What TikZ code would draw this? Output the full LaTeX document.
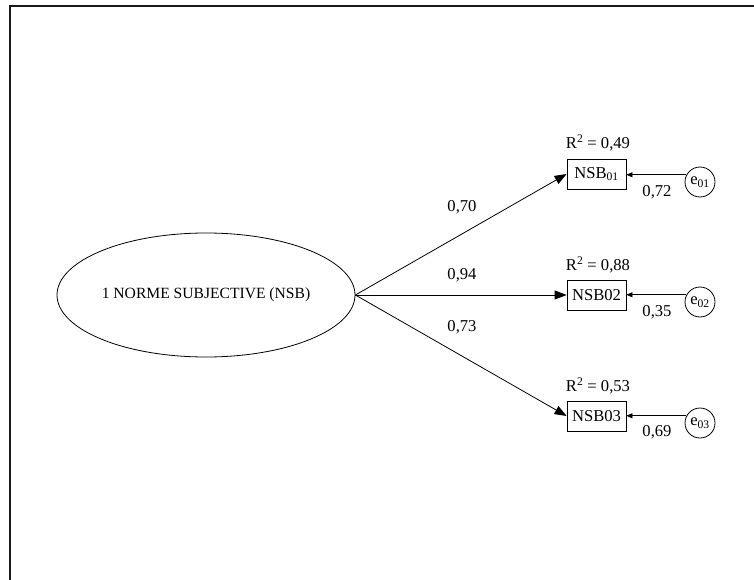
\documentclass[tikz,border=0pt]{standalone}
\usepackage{fontspec}
\setmainfont{Liberation Serif}
\usetikzlibrary{shapes.geometric,arrows.meta}
\begin{document}
\begin{tikzpicture}[x=1pt,y=-1pt,
  txt/.style={font=\fontsize{16.6}{19}\selectfont, inner sep=0pt},
  latent/.style={ellipse, draw, line width=0.8pt, minimum width=298pt, minimum height=124pt, inner sep=0pt},
  obsbox/.style={rectangle, draw, line width=0.8pt, minimum width=59pt, minimum height=30pt, inner sep=0pt, font=\fontsize{16.6}{19}\selectfont},
  errc/.style={circle, draw, line width=0.8pt, minimum size=30pt, inner sep=0pt, font=\fontsize{16.6}{19}\selectfont},
  loading/.style={-{Triangle[length=12pt,width=9pt]}, line width=0.8pt},
  errarrow/.style={-{Triangle[length=6pt,width=5pt]}, line width=0.8pt},
  frameline/.style={line width=2pt, black!90}
]
\useasboundingbox (0,0) rectangle (754,580);
% frame
\draw[frameline] (9.5,580) -- (9.5,6) -- (754,6);

% latent factor
\node[latent] (f) at (206,295) {\fontsize{15.6}{18}\selectfont 1 NORME SUBJECTIVE (NSB)};

% indicators
\node[obsbox] (b1) at (596.5,174) {NSB\textsubscript{01}};
\node[obsbox] (b2) at (596.5,295) {NSB02};
\node[obsbox] (b3) at (596.5,416) {NSB03};

% error terms
\node[errc] (e1) at (700,182) {e\textsubscript{01}};
\node[errc] (e2) at (700,302) {e\textsubscript{02}};
\node[errc] (e3) at (700,423) {e\textsubscript{03}};

% R-squared labels
\node[txt] (r1) at (598,143) {R\textsuperscript{2} = 0,49};
\node[txt] (r2) at (598,265) {R\textsuperscript{2} = 0,88};
\node[txt] (r3) at (598,386) {R\textsuperscript{2} = 0,53};

% loadings
\draw[loading] (f.east) -- (b1.west);
\draw[loading] (f.east) -- (b2.west);
\draw[loading] (f.east) -- (b3.west);
\node[txt] (l1) at (462,207) {0,70};
\node[txt] (l2) at (462,275) {0,94};
\node[txt] (l3) at (462,327) {0,73};

% error paths
\draw[errarrow] (e1.152) -- (b1.east |- e1.152);
\draw[errarrow] (e2.152) -- (b2.east |- e2.152);
\draw[errarrow] (e3.152) -- (b3.east |- e3.152);
\node[txt] (v1) at (657,192) {0,72};
\node[txt] (v2) at (657,312) {0,35};
\node[txt] (v3) at (657,432) {0,69};
\end{tikzpicture}
\end{document}
